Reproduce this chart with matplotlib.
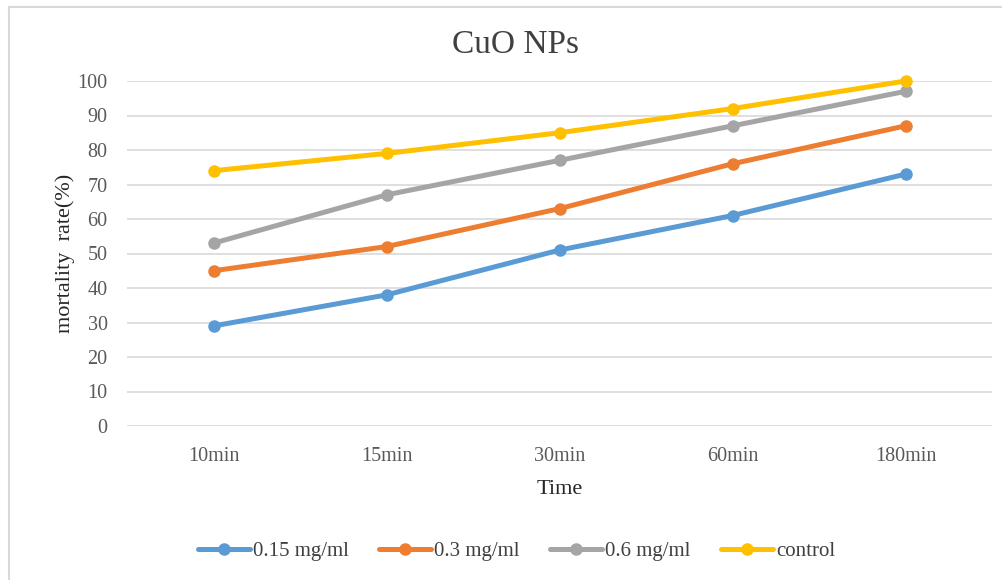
import numpy as np
import matplotlib.pyplot as plt
from matplotlib.lines import Line2D

plt.rcParams["font.family"] = ["Liberation Serif", "DejaVu Serif"]

# Data
times = ["10min", "15min", "30min", "60min", "180min"]
conc_015 = [29, 38, 51, 61, 73]
conc_03 = [45, 52, 63, 76, 87]
conc_06 = [53, 67, 77, 87, 97]
control = [74, 79, 85, 92, 100]

series = [
    ("0.15 mg/ml", conc_015, "#5B9BD5"),
    ("0.3 mg/ml", conc_03, "#ED7D31"),
    ("0.6 mg/ml", conc_06, "#A5A5A5"),
    ("control", control, "#FFC000"),
]

W, H = 1002, 580
fig = plt.figure(figsize=(W / 100, H / 100), dpi=100)
ax = fig.add_axes([127 / W, 1 - 426 / H, (992 - 127) / W, (426 - 81) / H])

x = np.arange(len(times))
for label, vals, color in series:
    ax.plot(x, vals, color=color, linewidth=3.6, marker="o", markersize=8,
            label=label, solid_capstyle="round", clip_on=False)

ax.set_xlim(-0.5, len(times) - 0.5)
ax.set_ylim(0, 100)
ax.set_yticks(np.arange(0, 101, 10))
ax.set_xticks(x)
ax.set_xticklabels(times)
ax.yaxis.grid(True, color="#D9D9D9", linewidth=1.2)
ax.set_axisbelow(True)
for s in ax.spines.values():
    s.set_visible(False)
ax.tick_params(length=0, labelsize=14.5, colors="#595959")
ax.tick_params(axis="y", pad=14)
ax.tick_params(axis="x", pad=15)

ax.set_xlabel("Time", fontsize=16, color="#262626", labelpad=10)
ax.set_ylabel("mortality  rate(%)", fontsize=16, color="#262626", labelpad=2)

# title is centred on the whole chart area, not on the plot area
fig.text(516 / W, 1 - 45 / H, "CuO NPs", fontsize=24, color="#404040",
         ha="center", va="center")

# chart frame (only top and left edges visible)
fig.add_artist(Line2D([9 / W, 1], [1 - 7 / H, 1 - 7 / H], color="#D9D9D9", linewidth=1.5))
fig.add_artist(Line2D([9 / W, 9 / W], [0, 1 - 7 / H], color="#D9D9D9", linewidth=1.5))

fig.legend(loc="center", bbox_to_anchor=(0.5155, 1 - 551 / H), ncol=4,
           frameon=False, fontsize=15, handlelength=2.5, handletextpad=0.15,
           columnspacing=1.45, labelcolor="#404040")

fig.savefig("out.png", dpi=100)
